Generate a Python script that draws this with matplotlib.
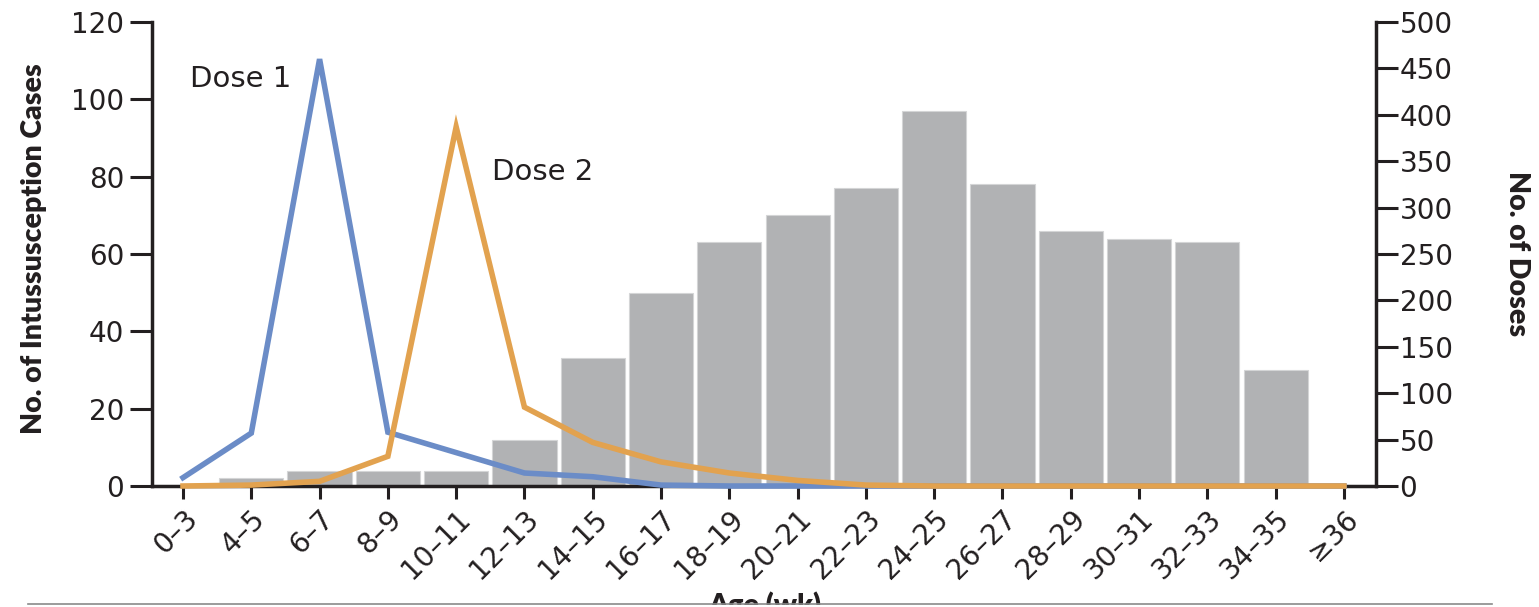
import matplotlib.pyplot as plt
from matplotlib.patches import Rectangle
from matplotlib.lines import Line2D

# Age groups (weeks)
age_groups = ["0\u20133", "4\u20135", "6\u20137", "8\u20139", "10\u201311", "12\u201313",
              "14\u201315", "16\u201317", "18\u201319", "20\u201321", "22\u201323", "24\u201325",
              "26\u201327", "28\u201329", "30\u201331", "32\u201333", "34\u201335", "\u226536"]

# intussusception cases per age group (left axis)
cases = [0, 2, 4, 4, 4, 12, 33, 50, 63, 70, 77, 97, 78, 66, 64, 63, 30, 0]

# doses given per age group (right axis)
dose1 = [9, 57, 460, 58, 36, 14, 10, 1, 0, 0, 0, 0, 0, 0, 0, 0, 0, 0]
dose2 = [0, 1, 5, 32, 387, 85, 47, 26, 14, 6, 1, 0, 0, 0, 0, 0, 0, 0]

left_ticks = [0, 20, 40, 60, 80, 100, 120]
right_ticks = [0, 50, 100, 150, 200, 250, 300, 350, 400, 450, 500]

dark = "#231f20"
bar_color = "#b1b2b4"
blue = "#6b8cc7"
orange = "#e2a24f"
title_kw = dict(fontsize=20.5, fontweight="heavy", family=["Lato", "DejaVu Sans"], color=dark)

fig = plt.figure(figsize=(15.39, 6.07), dpi=100)
ax = fig.add_axes([152 / 1539, 121 / 607, 1224 / 1539, 464 / 607])
ax2 = ax.twinx()

x = list(range(len(age_groups)))
ax.bar(x, cases, width=0.94, color=bar_color, edgecolor="#d4d5d6", linewidth=0.8, zorder=2)
ax2.plot(x, dose1, color=blue, lw=4, clip_on=False, zorder=3, solid_joinstyle="miter")
ax2.plot(x, dose2, color=orange, lw=4, clip_on=False, zorder=3, solid_joinstyle="miter")

ax.set_xlim(-0.454, 17.47)
ax.set_ylim(0, 120)
ax2.set_ylim(0, 500)
ax.set_yticks(left_ticks)
ax2.set_yticks(right_ticks)
ax.set_xticks(x)
ax.set_xticklabels(age_groups, rotation=45, ha="right", va="top",
                   rotation_mode="anchor", fontsize=20, color=dark)

for s in ["top", "right"]:
    ax.spines[s].set_visible(False)
for s in ["top", "left", "bottom"]:
    ax2.spines[s].set_visible(False)
for sp in [ax.spines["left"], ax.spines["bottom"], ax2.spines["right"]]:
    sp.set_linewidth(2.5)
    sp.set_color(dark)

ax.tick_params(axis="y", length=16, width=2.2, pad=4, labelsize=20, colors=dark)
ax.tick_params(axis="x", length=9.5, width=2.2, pad=4, colors=dark)
ax2.tick_params(axis="y", length=16, width=2.2, pad=1, labelsize=20, colors=dark)

ax.text(0.1, 103.2, "Dose 1", fontsize=21, color=dark, va="baseline")
ax.text(4.52, 79.1, "Dose 2", fontsize=21, color=dark, va="baseline")

fig.text(34 / 1539, 1 - 249 / 607, "No. of Intussusception Cases", rotation=90,
         ha="center", va="center", **title_kw)
fig.text(1517 / 1539, 1 - 254 / 607, "No. of Doses", rotation=270,
         ha="center", va="center", **title_kw)
fig.text(765 / 1539, 1 - 591 / 607, "Age (wk)", ha="center", va="top", **title_kw)

# page rule at the bottom edge
fig.add_artist(Rectangle((0, 0), 1, 2.5 / 607, transform=fig.transFigure,
                         facecolor="white", edgecolor="none", zorder=10))
fig.add_artist(Line2D([28 / 1539, 1492 / 1539], [2.8 / 607, 2.8 / 607],
                      transform=fig.transFigure, color="#8a8a8a", lw=1.2, zorder=11))

fig.savefig("out.png", dpi=100)
